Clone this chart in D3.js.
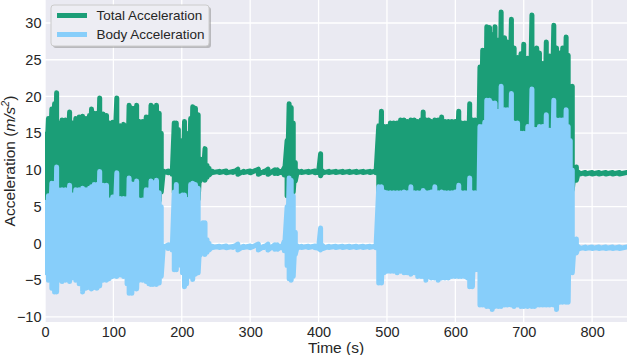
<!DOCTYPE html>
<html>
<head>
<meta charset="utf-8">
<script src="https://cdn.jsdelivr.net/npm/d3@7"></script>
<style>
  body { margin: 0; background: #fff; }
  text { font-family: "Liberation Sans", Arial, sans-serif; fill: #262626; }
</style>
</head>
<body>
<div id="chart"></div>
<script>
// readings: [time (s), upper envelope, lower envelope]
var totalAcc = [
  [0,15.2,5.8],[5,17.0,5.6],[10,18.3,5.5],[14,19.0,5.5],[17,20.5,5.6],[20,16.4,5.6],[25,16.8,5.8],[30,16.8,5.6],
  [36,17.9,5.6],[40,16.4,5.8],[45,17.0,5.6],[50,17.2,5.6],[55,17.3,5.5],[60,17.0,5.5],[65,17.4,5.6],[68,18.3,5.6],
  [72,17.7,5.6],[76,17.7,5.8],[80,19.8,5.6],[85,17.6,5.6],[90,17.4,5.8],[94,16.4,5.6],[99,16.5,5.8],[105,19.8,5.8],
  [110,16.0,5.8],[115,16.2,5.8],[120,16.0,5.8],[123,18.8,5.6],[127,18.4,5.6],[131,18.4,5.6],[134,18.8,5.6],[138,16.6,5.6],
  [143,16.6,5.8],[148,17.2,5.8],[152,17.2,5.6],[155,18.8,5.6],[158,18.6,5.6],[163,18.8,5.6],[167,17.7,5.8],[170,15.0,7.0],
  [173,9.85,9.6],[180,9.85,9.6],[186,10.0,9.4],[189,16.4,7.0],[192,16.4,6.5],[195,15.5,7.0],[198,10.0,5.0],[201,14.0,5.0],
  [204,16.6,4.0],[207,15.0,5.0],[210,12.0,6.0],[213,17.0,5.0],[216,18.6,4.0],[220,18.4,5.0],[224,17.5,6.0],[227,11.5,8.5],
  [231,11.0,8.8],[234,12.9,8.6],[237,10.6,9.0],[240,10.2,9.3],
  [245,9.8,9.65],[255,9.8,9.65],[265,9.85,9.6],[275,9.8,9.65],[282,10.1,9.4],[290,9.8,9.65],[300,9.85,9.6],[312,10.1,9.4],
  [320,9.8,9.65],[326,10.1,9.4],[336,10.0,9.5],[340,10.0,9.5],[346,9.85,9.6],[350,10.3,9.3],
  [354,14.0,6.5],[357,19.0,6.4],[360,18.5,6.5],[363,16.4,7.0],[366,11.0,8.5],[369,9.85,9.6],
  [375,9.8,9.65],[385,9.8,9.65],[395,9.85,9.6],[400,9.85,9.6],[403,12.2,9.2],[406,9.85,9.6],[415,9.8,9.65],[425,9.8,9.65],
  [435,9.8,9.65],[445,9.8,9.65],[455,9.8,9.65],[465,9.8,9.65],[475,9.8,9.65],[484,9.85,9.6],
  [488,16.0,6.0],[492,18.0,5.8],[496,15.9,6.0],[500,15.9,6.0],[505,16.4,6.0],[510,16.4,6.0],[515,16.4,6.2],[520,16.8,6.0],
  [525,16.8,6.0],[530,16.6,6.0],[535,16.8,6.0],[540,16.8,6.0],[545,16.6,6.0],[550,16.8,6.0],[553,17.9,5.8],[557,16.8,6.0],
  [561,16.8,6.0],[565,16.6,6.0],[570,16.8,6.0],[575,16.8,6.0],[580,17.2,6.0],[585,16.6,6.0],[590,16.6,6.0],[595,16.6,6.0],
  [600,16.6,6.0],[605,18.0,6.0],[609,16.4,6.0],[614,16.4,6.0],[618,16.4,6.0],[621,19.0,5.8],[625,16.8,6.0],[629,16.8,6.0],
  [633,16.8,6.2],
  [636,24.0,3.0],[640,26.3,2.0],[643,26.3,2.0],[646,29.5,2.0],[650,29.4,2.0],[654,28.4,2.0],[658,29.5,2.0],[663,27.7,2.0],
  [667,31.5,2.0],[672,28.0,2.0],[676,27.4,2.0],[682,30.5,2.0],[686,26.6,2.0],[691,25.3,2.0],[696,25.8,2.0],[700,27.1,2.0],
  [706,25.2,2.0],[712,31.1,2.0],[716,25.2,2.0],[719,26.6,2.0],[723,25.9,2.0],[728,24.5,2.0],[733,27.4,2.0],[738,25.5,2.0],
  [744,29.7,2.0],[748,26.6,2.0],[753,25.9,2.0],[757,26.6,2.0],[762,28.1,2.0],[765,25.6,2.0],[768,20.0,5.0],[771,21.4,7.3],
  [774,10.0,9.2],[777,10.4,8.6],[780,9.7,9.4],
  [790,9.65,9.45],[800,9.65,9.45],[810,9.65,9.45],[820,9.65,9.45],[830,9.65,9.45],[840,9.65,9.45],[851,9.65,9.45]
];

var bodyAcc = [
  [0,5.9,-4.0],[5,6.5,-5.0],[10,8.2,-6.1],[14,8.2,-6.6],[17,10.4,-6.6],[20,7.3,-5.0],[25,7.3,-5.2],[30,7.3,-5.0],
  [36,7.9,-5.2],[40,6.6,-4.7],[45,7.3,-5.0],[50,7.3,-5.5],[55,7.5,-6.6],[60,7.3,-6.1],[65,7.5,-6.0],[68,7.7,-6.2],
  [72,8.0,-6.0],[76,8.0,-6.1],[80,9.8,-5.8],[85,7.9,-5.0],[90,7.9,-5.0],[94,5.9,-4.8],[99,6.3,-4.5],[105,9.6,-4.5],
  [110,6.1,-4.3],[115,6.1,-4.5],[120,6.1,-5.5],[123,8.9,-6.8],[127,8.1,-6.8],[131,8.1,-6.1],[134,8.5,-6.2],[138,5.9,-5.0],
  [143,5.9,-5.0],[148,7.3,-5.2],[152,7.3,-5.5],[155,8.5,-5.6],[158,8.3,-5.6],[163,8.6,-5.6],[167,6.9,-5.4],[170,5.0,-4.5],
  [173,-0.35,-0.55],[180,-0.2,-0.7],[186,0.0,-0.9],[189,7.0,-3.6],[192,8.0,-3.6],[195,6.5,-3.0],[198,2.0,-2.5],[201,6.6,-4.0],
  [204,6.6,-5.9],[207,6.0,-5.5],[210,3.0,-3.5],[213,8.0,-4.5],[216,8.2,-4.9],[220,8.0,-4.2],[224,7.5,-4.0],[227,1.5,-1.6],
  [231,2.8,-1.2],[234,2.8,-1.5],[237,0.5,-1.2],[240,0.0,-0.9],
  [245,-0.4,-0.55],[255,-0.4,-0.55],[265,-0.35,-0.6],[275,-0.4,-0.55],[282,-0.1,-0.9],[290,-0.4,-0.55],[300,-0.35,-0.6],[312,-0.1,-0.9],
  [320,-0.4,-0.55],[326,-0.1,-0.9],[336,-0.2,-0.8],[340,-0.2,-0.8],[346,-0.35,-0.6],[350,0.3,-1.0],
  [354,5.0,-3.0],[357,8.9,-4.8],[360,8.6,-5.0],[363,6.5,-4.5],[366,1.5,-1.5],[369,-0.35,-0.6],
  [375,-0.4,-0.55],[385,-0.4,-0.55],[395,-0.35,-0.6],[400,-0.3,-0.7],[403,2.1,-0.9],[406,-0.3,-0.7],[415,-0.4,-0.55],[425,-0.4,-0.55],
  [435,-0.4,-0.55],[445,-0.4,-0.55],[455,-0.4,-0.55],[465,-0.4,-0.55],[475,-0.4,-0.55],[484,-0.35,-0.6],
  [488,7.7,-5.4],[492,7.7,-5.4],[496,7.0,-4.0],[500,6.9,-3.8],[505,6.9,-3.8],[510,6.9,-3.8],[515,6.9,-4.0],[520,6.9,-3.8],
  [525,7.0,-4.0],[530,6.9,-4.0],[535,7.7,-4.2],[540,6.9,-4.0],[545,6.9,-4.5],[550,6.9,-4.5],[553,7.2,-4.5],[557,6.9,-5.0],
  [561,6.9,-4.5],[565,7.0,-4.7],[570,7.7,-4.7],[575,6.9,-5.0],[580,7.0,-4.7],[585,6.9,-4.7],[590,6.9,-4.7],[595,6.9,-4.5],
  [600,7.0,-4.5],[605,7.9,-4.5],[609,6.9,-4.5],[614,6.9,-4.5],[618,6.9,-4.7],[621,8.9,-5.9],[625,6.9,-5.9],[629,6.9,-3.6],
  [633,6.9,-3.6],
  [636,15.9,-8.4],[640,15.9,-8.4],[643,16.5,-8.4],[646,19.5,-8.6],[650,19.5,-8.6],[654,19.1,-9.0],[658,19.1,-8.6],[663,18.0,-8.6],
  [667,21.4,-8.6],[672,18.2,-8.4],[676,18.2,-8.4],[682,20.4,-8.4],[686,16.4,-8.6],[691,16.4,-8.4],[696,15.0,-8.6],[700,15.0,-8.6],
  [706,15.9,-8.6],[712,21.0,-8.6],[716,15.5,-8.6],[719,15.5,-8.4],[723,15.9,-8.4],[728,15.9,-8.4],[733,17.5,-8.4],[738,15.4,-8.4],
  [744,19.5,-8.4],[748,16.8,-9.0],[753,16.8,-8.0],[757,16.8,-8.0],[762,18.2,-8.0],[765,15.9,-8.0],[768,14.0,-4.0],[771,10.0,-4.0],
  [774,0.3,-1.2],[777,0.6,-1.3],[780,-0.45,-0.75],
  [790,-0.5,-0.7],[800,-0.5,-0.7],[810,-0.5,-0.7],[820,-0.5,-0.7],[830,-0.5,-0.7],[840,-0.5,-0.7],[851,-0.5,-0.7]
];

var seriesNames = ["Total Acceleration", "Body Acceleration"];
var seriesColors = ["#1b9e77", "#87cefa"];
var xTicks = [0, 100, 200, 300, 400, 500, 600, 700, 800];
var yTicks = [-10, -5, 0, 5, 10, 15, 20, 25, 30];

var w = 632, h = 355;
var plotLeft = 45, plotRight = 627, plotTop = 0, plotBottom = 322;

var svg = d3.select("#chart")
    .append("svg")
    .attr("width", w)
    .attr("height", h);

var xScale = d3.scaleLinear().domain([0, 851]).range([plotLeft, plotRight]);
var yScale = d3.scaleLinear().domain([-10.7, 33.13]).range([plotBottom, plotTop]);

// background + grid
svg.append("rect")
    .attr("x", plotLeft).attr("y", plotTop)
    .attr("width", plotRight - plotLeft).attr("height", plotBottom - plotTop)
    .attr("fill", "#eaeaf2");

svg.selectAll("line.gx")
    .data(xTicks)
    .enter()
    .append("line")
    .attr("class", "gx")
    .attr("x1", function (d) { return xScale(d); })
    .attr("x2", function (d) { return xScale(d); })
    .attr("y1", plotTop).attr("y2", plotBottom)
    .attr("stroke", "#fff").attr("stroke-width", 1.3);

svg.selectAll("line.gy")
    .data(yTicks)
    .enter()
    .append("line")
    .attr("class", "gy")
    .attr("x1", plotLeft).attr("x2", plotRight)
    .attr("y1", function (d) { return yScale(d); })
    .attr("y2", function (d) { return yScale(d); })
    .attr("stroke", "#fff").attr("stroke-width", 1.3);

svg.append("clipPath").attr("id", "plotclip")
    .append("rect")
    .attr("x", plotLeft).attr("y", plotTop)
    .attr("width", plotRight - plotLeft).attr("height", plotBottom - plotTop);

// each reading becomes a swing from its upper to its lower value
var toPoints = function (rows) {
    var pts = [];
    rows.forEach(function (r) {
        pts.push([r[0], r[1]]);
        pts.push([r[0], r[2]]);
    });
    return pts;
};

var line = d3.line()
    .x(function (d) { return xScale(d[0]); })
    .y(function (d) { return yScale(d[1]); });

[totalAcc, bodyAcc].forEach(function (rows, i) {
    svg.append("path")
        .datum(toPoints(rows))
        .attr("clip-path", "url(#plotclip)")
        .attr("d", line)
        .attr("fill", "none")
        .attr("stroke", seriesColors[i])
        .attr("stroke-width", 5)
        .attr("stroke-linejoin", "round");
});

// axes
var xAxis = d3.axisBottom(xScale).tickValues(xTicks).tickSize(0).tickPadding(4.5);
var yAxis = d3.axisLeft(yScale).tickValues(yTicks).tickSize(0).tickPadding(3.5);

svg.append("g")
    .attr("transform", "translate(0," + plotBottom + ")")
    .call(xAxis)
    .call(function (g) { g.select(".domain").remove(); })
    .selectAll("text")
    .attr("font-size", "14.5px")
    .attr("font-family", "Liberation Sans, Arial, sans-serif")
    .attr("fill", "#262626");

svg.append("g")
    .attr("transform", "translate(" + plotLeft + ",0)")
    .call(yAxis)
    .call(function (g) { g.select(".domain").remove(); })
    .selectAll("text")
    .attr("font-size", "14.5px")
    .attr("font-family", "Liberation Sans, Arial, sans-serif")
    .attr("fill", "#262626");

svg.append("text")
    .attr("x", (plotLeft + plotRight) / 2)
    .attr("y", 353)
    .attr("text-anchor", "middle")
    .attr("font-size", "15.5px")
    .text("Time (s)");

var ylab = svg.append("text")
    .attr("transform", "translate(14.5," + (plotTop + plotBottom) / 2 + ") rotate(-90)")
    .attr("text-anchor", "middle")
    .attr("font-size", "15.5px");
ylab.append("tspan").text("Acceleration (");
ylab.append("tspan").attr("font-style", "italic").text("m/s");
ylab.append("tspan").attr("font-size", "10.5px").attr("dy", "-6").attr("font-style", "italic").text("2");
ylab.append("tspan").attr("dy", "6").text(")");

// legend
var lg = svg.append("g");
lg.append("rect")
    .attr("x", 53).attr("y", 7).attr("width", 158).attr("height", 41).attr("rx", 3)
    .attr("fill", "#888").attr("opacity", 0.5);
lg.append("rect")
    .attr("x", 51).attr("y", 5).attr("width", 158).attr("height", 41).attr("rx", 3)
    .attr("fill", "#ededf3").attr("stroke", "#cccccc").attr("stroke-width", 1);

lg.selectAll("line.key")
    .data(seriesNames)
    .enter()
    .append("line")
    .attr("class", "key")
    .attr("x1", 57).attr("x2", 87)
    .attr("y1", function (d, i) { return 15.5 + i * 19; })
    .attr("y2", function (d, i) { return 15.5 + i * 19; })
    .attr("stroke", function (d, i) { return seriesColors[i]; })
    .attr("stroke-width", 5);

lg.selectAll("text.key")
    .data(seriesNames)
    .enter()
    .append("text")
    .attr("class", "key")
    .attr("x", 96.5)
    .attr("y", function (d, i) { return 20.3 + i * 19; })
    .attr("font-size", "13.5px")
    .text(function (d) { return d; });
</script>
</body>
</html>
